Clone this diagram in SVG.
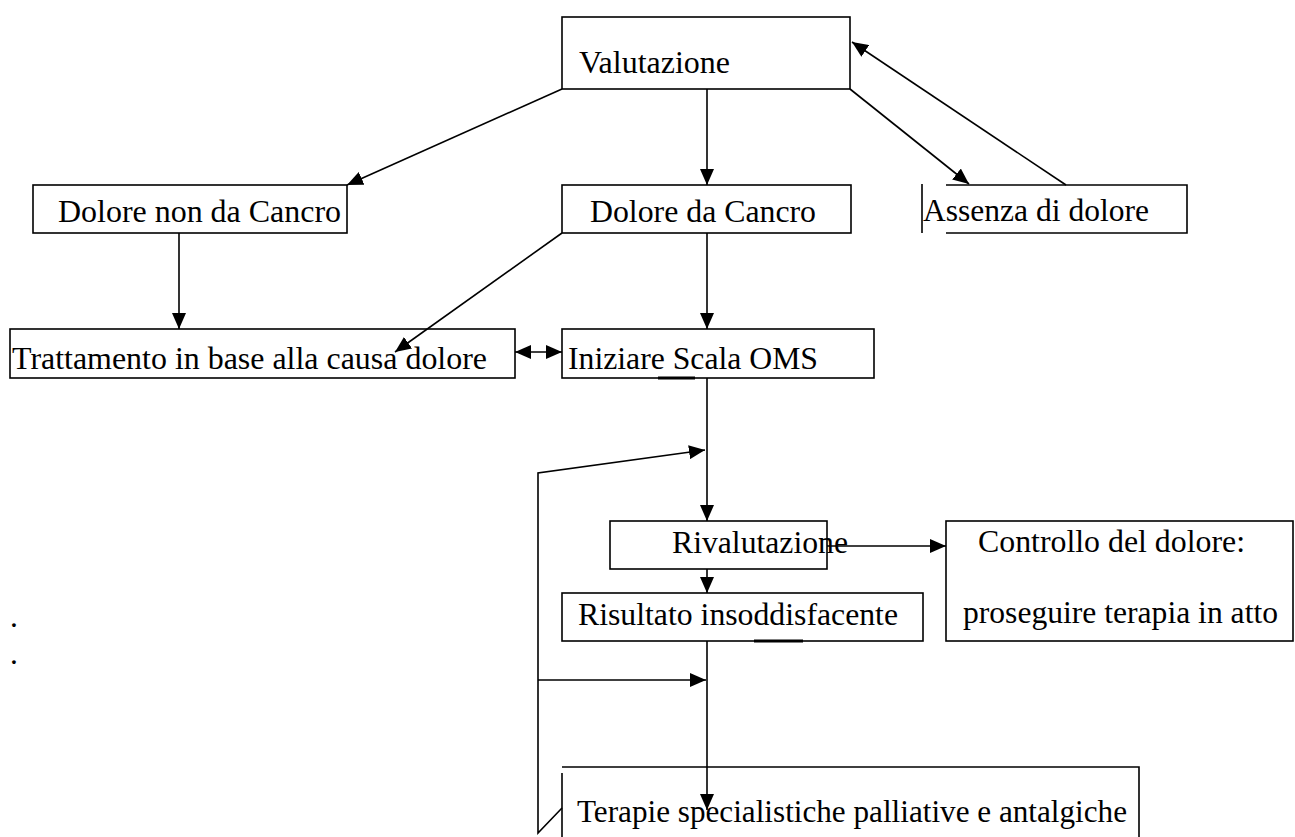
<svg xmlns="http://www.w3.org/2000/svg" width="1295" height="837" viewBox="0 0 1295 837">
<defs>
<marker id="ah" markerUnits="userSpaceOnUse" markerWidth="16" markerHeight="14" refX="16" refY="7" orient="auto-start-reverse">
<path d="M0,0 L16,7 L0,14 z" fill="#000"/>
</marker>
<style>
.box{fill:none;stroke:#000;stroke-width:1.6}
.ln{fill:none;stroke:#000;stroke-width:1.6}
.thk{stroke:#000;stroke-width:3}
.arr{fill:none;stroke:#000;stroke-width:1.6;marker-end:url(#ah)}
text{font-family:"Liberation Serif","Times New Roman",serif;font-size:31.5px;fill:#000}
</style>
</defs>
<rect width="1295" height="837" fill="#fff"/>

<g id="connectors">
<path class="arr" d="M562,89 L347,185"/>
<path class="arr" d="M707,89 L707,185"/>
<path class="arr" d="M850,89 L969,184"/>
<path class="arr" d="M1066,185 L852,42"/>
<path class="arr" d="M179,233 L179,329"/>
<path class="arr" d="M562,233 L395,352"/>
<path class="arr" d="M707,233 L707,329"/>
<path class="arr" d="M515,352 L562,352" style="marker-start:url(#ah)"/>
<path class="arr" d="M707,378 L707,521"/>
<path class="arr" d="M707,569 L707,593"/>
<path class="arr" d="M827,546 L946,546"/>
<path class="arr" d="M707,641 L707,810"/>
<path class="arr" d="M562,808 L538,833 L538,473 L705,450"/>
<path class="arr" d="M538,680 L706,680"/>
</g>

<g id="valutazione">
<rect class="box" x="562" y="17" width="288" height="72"/>
<text x="579" y="73" textLength="151" lengthAdjust="spacingAndGlyphs">Valutazione</text>
</g>

<g id="dolore-non-cancro">
<rect class="box" x="33" y="185" width="314" height="48"/>
<text x="58" y="222" textLength="283" lengthAdjust="spacingAndGlyphs">Dolore non da Cancro</text>
</g>

<g id="dolore-cancro">
<rect class="box" x="562" y="185" width="289" height="48"/>
<text x="590" y="222" textLength="226" lengthAdjust="spacingAndGlyphs">Dolore da Cancro</text>
</g>

<g id="assenza">
<path class="ln" d="M922,184 L922,233 M946,185 L1187,185 L1187,233 L946,233"/>
<text x="923" y="221" textLength="226" lengthAdjust="spacingAndGlyphs">Assenza di dolore</text>
</g>

<g id="trattamento">
<rect class="box" x="10" y="329" width="505" height="49"/>
<text x="12" y="369" textLength="475" lengthAdjust="spacingAndGlyphs">Trattamento in base alla causa dolore</text>
</g>

<g id="iniziare">
<rect class="box" x="562" y="329" width="312" height="49"/>
<line class="thk" x1="658" y1="378" x2="695" y2="378"/>
<text x="568" y="369" textLength="250" lengthAdjust="spacingAndGlyphs">Iniziare Scala OMS</text>
</g>

<g id="rivalutazione">
<rect class="box" x="610" y="521" width="217" height="48"/>
<text x="672" y="553" textLength="176" lengthAdjust="spacingAndGlyphs">Rivalutazione</text>
</g>

<g id="risultato">
<rect class="box" x="562" y="593" width="361" height="48"/>
<line class="thk" x1="754" y1="641" x2="803" y2="641"/>
<text x="578" y="625" textLength="320" lengthAdjust="spacingAndGlyphs">Risultato insoddisfacente</text>
</g>

<g id="controllo">
<rect class="box" x="946" y="521" width="347" height="120"/>
<text x="978" y="552" textLength="267" lengthAdjust="spacingAndGlyphs">Controllo del dolore:</text>
<text x="963" y="623" textLength="315" lengthAdjust="spacingAndGlyphs">proseguire terapia in atto</text>
</g>

<g id="terapie">
<path class="ln" d="M562,767 L1139,767 L1139,837 M562,773 L562,837"/>
<text x="577" y="822" textLength="550" lengthAdjust="spacingAndGlyphs">Terapie specialistiche palliative e antalgiche</text>
</g>

<g id="dots">
<text x="10" y="627">.</text>
<text x="10" y="664">.</text>
</g>
</svg>
